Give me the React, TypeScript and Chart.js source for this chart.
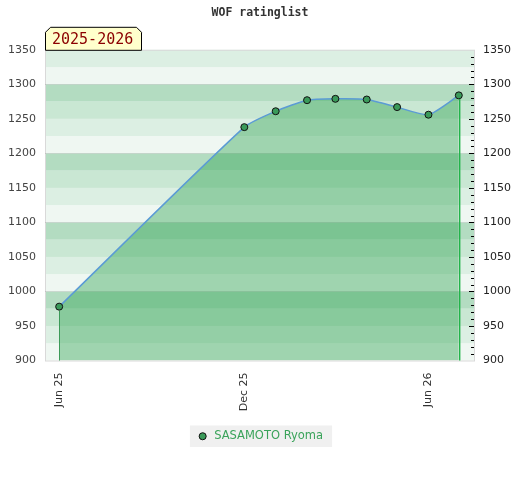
import React, { useEffect, useRef } from "react";
import { Chart, registerables } from "chart.js";

Chart.register(...registerables);

// ---- data ----
const chartTitle = "WOF ratinglist";
const seasonLabel = "2025-2026";
const seriesName = "SASAMOTO Ryoma";
const ratingDates = [
  "2025-06-01",
  "2025-12-01",
  "2026-01-01",
  "2026-02-01",
  "2026-03-01",
  "2026-04-01",
  "2026-05-01",
  "2026-06-01",
  "2026-07-01",
];
const ratings = [978, 1238, 1261, 1277, 1279, 1278, 1267, 1256, 1284];
const tickDates = ["2025-06-01", "2025-12-01", "2026-06-01"];
const tickLabels = ["Jun 25", "Dec 25", "Jun 26"];
const axisStartDate = "2025-05-18";
const axisEndDate = "2026-07-17";
const yMin = 900;
const yMax = 1350;

const DAY = 86400000;
const originMs = Date.parse(ratingDates[0]);
const toDay = (s: string) => (Date.parse(s) - originMs) / DAY;

const bandColors = ["#eff7f2", "#dcefe3", "#c9e7d3", "#b3dcc1"];
const FONT = "'DejaVu Sans', sans-serif";

const bandsPlugin = {
  id: "bands",
  beforeDraw(chart: any) {
    const { ctx, chartArea: ca, scales } = chart;
    const ys = scales.y;
    ctx.save();
    let i = 0;
    for (let v = yMin; v < yMax; v += 25, i++) {
      const top = ys.getPixelForValue(v + 25);
      const bot = ys.getPixelForValue(v);
      ctx.fillStyle = bandColors[i % 4];
      ctx.fillRect(ca.left, top, ca.right - ca.left, bot - top);
    }
    ctx.strokeStyle = "#d9d9d9";
    ctx.lineWidth = 1;
    ctx.strokeRect(ca.left + 0.5, ca.top + 0.5, ca.right - ca.left - 1, ca.bottom - ca.top);
    // legend background
    const lg = chart.legend;
    if (lg && lg.legendHitBoxes && lg.legendHitBoxes.length) {
      const hb = lg.legendHitBoxes[0];
      ctx.fillStyle = "#f0f0f0";
      ctx.fillRect(hb.left - 7, hb.top - 5, hb.width + 16, hb.height + 10);
    }
    ctx.restore();
  },
};

const overlayPlugin = {
  id: "overlay",
  afterDraw(chart: any) {
    const { ctx, chartArea: ca, scales } = chart;
    const xs = scales.x;
    const ys = scales.y;
    ctx.save();
    // vertical lines at first and last rating
    const firstX = Math.round(xs.getPixelForValue(toDay(ratingDates[0])));
    const firstY = Math.round(ys.getPixelForValue(ratings[0])) + 4;
    ctx.fillStyle = "#3c9a58";
    ctx.fillRect(firstX, firstY, 1, ca.bottom - firstY);
    const n = ratings.length - 1;
    const lastX = Math.round(xs.getPixelForValue(toDay(ratingDates[n])));
    const lastY = Math.round(ys.getPixelForValue(ratings[n])) + 4;
    ctx.fillStyle = "#22b44a";
    ctx.fillRect(lastX, lastY, 1.4, ca.bottom - lastY);
    // right axis minor ticks (inside)
    ctx.fillStyle = "#000";
    for (let v = yMin + 10; v < yMax; v += 10) {
      const y = Math.round(ys.getPixelForValue(v));
      const len = v % 50 === 0 ? 5 : 3;
      ctx.fillRect(ca.right - 1 - len, y, len, 1);
    }
    // season tab
    ctx.font = "15px 'DejaVu Sans Mono', monospace";
    const tw = ctx.measureText(seasonLabel).width;
    const x0 = ca.left + 0.5;
    const x1 = Math.round(ca.left + tw + 15) + 0.5;
    const y0 = ca.top - 22.5;
    const y1 = ca.top + 0.5;
    const c = 5;
    ctx.beginPath();
    ctx.moveTo(x0, y1);
    ctx.lineTo(x0, y0 + c);
    ctx.lineTo(x0 + c, y0);
    ctx.lineTo(x1 - c, y0);
    ctx.lineTo(x1, y0 + c);
    ctx.lineTo(x1, y1);
    ctx.closePath();
    ctx.fillStyle = "#ffffcc";
    ctx.fill();
    ctx.strokeStyle = "#000";
    ctx.lineWidth = 1;
    ctx.stroke();
    ctx.fillStyle = "#8b0000";
    ctx.textBaseline = "middle";
    ctx.textAlign = "left";
    ctx.fillText(seasonLabel, x0 + 6.5, (y0 + y1) / 2 + 1);
    ctx.restore();
  },
};

const plainNumber = (v: any) => String(v);

export default function App() {
  const ref = useRef<HTMLCanvasElement | null>(null);
  useEffect(() => {
    if (!ref.current) return;
    const tickDays = tickDates.map(toDay);
    const chart = new Chart(ref.current, {
      type: "line",
      data: {
        datasets: [
          {
            label: seriesName,
            data: ratingDates.map((d, i) => ({ x: toDay(d), y: ratings[i] })),
            borderColor: "#5b9bd5",
            borderWidth: 1.5,
            backgroundColor: "rgba(40,160,75,0.4)",
            fill: "start",
            pointRadius: 3.5,
            pointBackgroundColor: "#3a9a5a",
            pointBorderColor: "#111",
            pointBorderWidth: 1,
            tension: 0.2,
          } as any,
        ],
      },
      options: {
        responsive: false,
        animation: false,
        layout: { padding: { left: 0, right: 0, top: 0, bottom: 28 } },
        scales: {
          x: {
            type: "linear",
            min: toDay(axisStartDate),
            max: toDay(axisEndDate),
            afterBuildTicks: (s: any) => {
              s.ticks = tickDays.map((v) => ({ value: v }));
            },
            afterFit: (s: any) => {
              s.height = 60;
            },
            ticks: {
              autoSkip: false,
              minRotation: 90,
              maxRotation: 90,
              padding: 12,
              color: "#333",
              font: { family: FONT, size: 11 },
              callback: (v: any) => {
                const i = tickDays.indexOf(Number(v));
                return i >= 0 ? tickLabels[i] : "";
              },
            },
            grid: { display: false, drawTicks: false },
            border: { display: false },
          },
          y: {
            type: "linear",
            position: "left",
            min: yMin,
            max: yMax,
            afterFit: (s: any) => {
              s.width = 45;
            },
            ticks: {
              stepSize: 50,
              padding: 9,
              color: "#444",
              font: { family: FONT, size: 11 },
              callback: plainNumber,
            },
            grid: {
              drawTicks: false,
              lineWidth: 1,
              color: (c: any) => {
                const v = c.tick && c.tick.value;
                return v % 100 === 0 && v > yMin && v < yMax ? "rgba(0,0,0,0.1)" : "rgba(0,0,0,0)";
              },
            },
            border: { display: false },
          },
          y2: {
            type: "linear",
            position: "right",
            min: yMin,
            max: yMax,
            afterFit: (s: any) => {
              s.width = 45;
            },
            ticks: {
              stepSize: 50,
              padding: 8,
              color: "#222",
              font: { family: FONT, size: 11 },
              callback: plainNumber,
            },
            grid: { display: false, drawTicks: false },
            border: { display: false },
          },
        },
        plugins: {
          title: {
            display: true,
            text: chartTitle,
            color: "#333",
            font: { family: "'DejaVu Sans Mono', monospace", size: 11.5, weight: "bold" },
            padding: { top: 6, bottom: 30 },
          },
          legend: {
            display: true,
            position: "bottom",
            labels: {
              usePointStyle: true,
              boxHeight: 5,
              color: "#3aa35a",
              font: { family: FONT, size: 11.5 },
              generateLabels: () => [
                {
                  text: seriesName,
                  fillStyle: "#3a9a5a",
                  strokeStyle: "#111",
                  lineWidth: 1,
                  pointStyle: "circle",
                  hidden: false,
                  datasetIndex: 0,
                  fontColor: "#3aa35a",
                } as any,
              ],
            },
          },
          tooltip: { enabled: false },
        },
      } as any,
      plugins: [bandsPlugin, overlayPlugin],
    });
    return () => chart.destroy();
  }, []);
  return (
    <div style={{ position: "fixed", left: 0, top: 0, width: 520, height: 480, background: "#fff" }}>
      <canvas ref={ref} width={520} height={480} style={{ display: "block" }} />
    </div>
  );
}
